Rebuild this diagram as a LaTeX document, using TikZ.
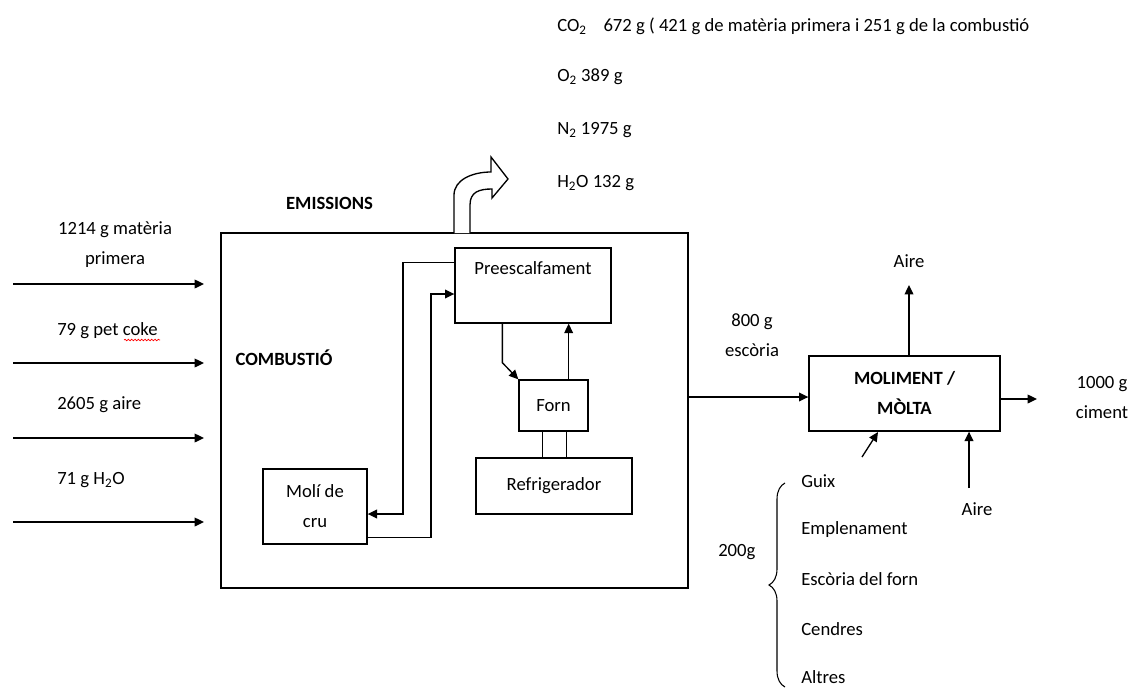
\documentclass[tikz,border=0pt]{standalone}
\usepackage{fontspec}
\setmainfont{Carlito}
\usetikzlibrary{arrows.meta,calc,decorations.pathmorphing,decorations.pathreplacing}
\begin{document}
\begin{tikzpicture}[x=0.75pt,y=-0.75pt,
  font=\fontsize{14}{22.5}\selectfont,
  box/.style={draw, line width=1pt, inner sep=0},
  flow/.style={line width=1pt, -{Triangle[length=7pt,width=6.5pt]}},
  plain/.style={line width=1pt},
  lbl/.style={inner sep=0, anchor=west},
  ctr/.style={inner sep=0, align=center},
]
\useasboundingbox (0,0) rectangle (1142,689);

% boxes
\node[box, minimum width=350.25pt, minimum height=266.25pt] (main) at (454.5,410.5) {};
\node[box, minimum width=117pt, minimum height=56.25pt] (pre) at (533,285.5) {};
\node[ctr] (pretxt) at (533,268) {Preescalfament};
\node[box, minimum width=51.75pt, minimum height=38.25pt] (forn) at (553.5,405.5) {Forn};
\node[box, minimum width=117pt, minimum height=42pt] (ref) at (554,486) {Refrigerador};
\node[box, minimum width=78pt, minimum height=56.25pt, align=center] (moli) at (315,506.5) {Molí de\\cru};
\node[box, minimum width=143.25pt, minimum height=56.25pt, align=center, font=\fontsize{14}{22.5}\selectfont\bfseries] (mol) at (904.5,393.5) {MOLIMENT /\\MÒLTA};

% labels
\node[ctr, font=\fontsize{14}{16}\selectfont\bfseries] (emis) at (329.5,203) {EMISSIONS};
\node[ctr, font=\fontsize{14}{16}\selectfont\bfseries] (comb) at (284,358) {COMBUSTIÓ};

% input arrows
\coordinate (i1s) at (13,284); \coordinate (i1e) at (204,284);
\coordinate (i2s) at (13,363); \coordinate (i2e) at (204,363);
\coordinate (i3s) at (13,438); \coordinate (i3e) at (204,438);
\coordinate (i4s) at (13,522); \coordinate (i4e) at (204,522);
\draw[flow] (i1s) -- (i1e);
\draw[flow] (i2s) -- (i2e);
\draw[flow] (i3s) -- (i3e);
\draw[flow] (i4s) -- (i4e);
\node[ctr] (l1) at (115,245) {1214 g matèria\\primera};
\node[lbl] (l2) at (57,331) {79 g pet coke};
\draw[red, line width=0.5pt, decorate, decoration={snake, amplitude=0.6pt, segment length=2.5pt}] (124,340) -- (160,340);
\node[lbl] (l3) at (57,405) {2605 g aire};
\node[lbl] (l4) at (57,480) {71 g H\textsubscript{2}O};

% emission hollow arrow
\draw[line width=1pt, fill=white] (454,233) -- (454,195)
  .. controls (454,180) and (472,172) .. (491,172) -- (491,157) -- (508,179) -- (492,198) -- (492,189)
  .. controls (479,189) and (470,192) .. (470,205) -- (470,233);

% emissions text
\node[lbl] (e1) at (557,26) {CO\textsubscript{2}\hspace{0.9em}672 g ( 421 g de matèria primera i 251 g de la combustió};
\node[lbl] (e2) at (557,77) {O\textsubscript{2} 389 g};
\node[lbl] (e3) at (557,130) {N\textsubscript{2} 1975 g};
\node[lbl] (e4) at (557,183) {H\textsubscript{2}O 132 g};

% internal flows
\coordinate (pa) at ($(pre.north west)+(0,15)$);
\coordinate (ma) at (403,514);
\draw[flow] (pa) -| (ma) -- (ma -| moli.east);
\coordinate (mb) at ($(moli.south east)+(0,-7)$);
\coordinate (pb) at (431,294);
\draw[flow] (mb) -| (pb) -- (pb -| pre.west);
\coordinate (pc) at ($(pre.south west)+(48,0)$);
\draw[flow] (pc) -- ++(0,39) -- (forn.north west);
\coordinate (fd) at ($(forn.north east)+(-20,0)$);
\draw[flow] (fd) -- (fd |- pre.south);
\coordinate (f1) at ($(forn.south west)+(24,0)$);
\coordinate (f2) at ($(forn.south west)+(48,0)$);
\draw[plain] (f1) -- (f1 |- ref.north);
\draw[plain] (f2) -- (f2 |- ref.north);

% right side
\coordinate (mi) at ($(mol.west)+(0,3.5)$);
\draw[flow] (mi -| main.east) -- (mi);
\node[ctr] (esc) at (752,335) {800 g\\escòria};
\coordinate (airetop) at (909,285);
\draw[flow] (airetop |- mol.north) -- (airetop);
\node[ctr] (aire1) at (909,261) {Aire};
\coordinate (outend) at (1037,399);
\draw[flow] (outend -| mol.east) -- (outend);
\node[ctr] (cim) at (1102,398) {1000 g\\ciment};
\coordinate (diag) at (862,457);
\draw[flow] (diag) -- (878,432);
\coordinate (aireb) at (969,488);
\draw[flow] (aireb) -- (aireb |- mol.south);
\node[ctr] (aire2) at (977,509) {Aire};

% brace and list
\draw[line width=0.8pt, decorate, decoration={brace, amplitude=12pt}] (785,687) -- (785,483);
\node[lbl] (g200) at (718,552) {200g};
\node[lbl] (b1) at (801,481) {Guix};
\node[lbl] (b2) at (801,530) {Emplenament};
\node[lbl] (b3) at (801,579) {Escòria del forn};
\node[lbl] (b4) at (801,629) {Cendres};
\node[lbl] (b5) at (801,677) {Altres};
\end{tikzpicture}
\end{document}
